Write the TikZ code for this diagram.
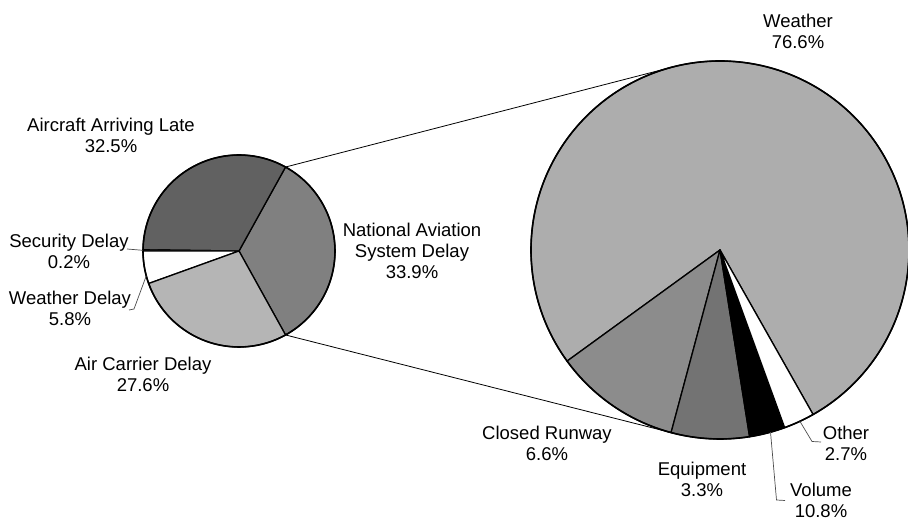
\documentclass[tikz,border=0pt]{standalone}
\usepackage{fontspec}
\setmainfont{Liberation Sans}
\usetikzlibrary{calc}
% centred multi-line label whose reference point is the first baseline
\newcommand\labelstack[1]{\begin{tabular}[t]{@{}c@{}}#1\end{tabular}}
\definecolor{lateGray}{gray}{0.38}
\definecolor{nasGray}{gray}{0.50}
\definecolor{carrierGray}{gray}{0.71}
\definecolor{wxGray}{gray}{0.68}
\definecolor{runwayGray}{gray}{0.55}
\definecolor{equipGray}{gray}{0.45}
\begin{document}
\begin{tikzpicture}[x=1pt,y=1pt,
  slice/.style={draw=black, line width=1.3pt, line join=round},
  rim/.style={draw=black, line width=1.6pt},
  zoomline/.style={draw=black, line width=0.8pt},
  leader/.style={draw=black!70, line width=0.7pt},
  lbl/.style={anchor=base, inner sep=0pt, font=\fontsize{18.5}{21}\selectfont}]
\useasboundingbox (0,0) rectangle (908,521);

\coordinate (S) at (239,270);
\coordinate (B) at (720,271);

% ---- small pie: all delay causes ----
\filldraw[slice, fill=nasGray] (S) -- ($(S)+(-61:96)$) arc[start angle=-61, end angle=61, radius=96] -- cycle;
\filldraw[slice, fill=lateGray] (S) -- ($(S)+(61:96)$) arc[start angle=61, end angle=179.3, radius=96] -- cycle;
\filldraw[slice, fill=white] (S) -- ($(S)+(179.3:96)$) arc[start angle=179.3, end angle=180, radius=96] -- cycle;
\filldraw[slice, fill=white] (S) -- ($(S)+(180:96)$) arc[start angle=180, end angle=199.8, radius=96] -- cycle;
\filldraw[slice, fill=carrierGray] (S) -- ($(S)+(199.8:96)$) arc[start angle=199.8, end angle=299, radius=96] -- cycle;
\draw[rim] (S) circle[radius=96];

% ---- large pie: breakdown of the NAS share ----
\filldraw[slice, fill=wxGray] (B) -- ($(B)+(299.5:189)$) arc[start angle=299.5, end angle=576, radius=189] -- cycle;
\filldraw[slice, fill=runwayGray] (B) -- ($(B)+(216:189)$) arc[start angle=216, end angle=255, radius=189] -- cycle;
\filldraw[slice, fill=equipGray] (B) -- ($(B)+(255:189)$) arc[start angle=255, end angle=279, radius=189] -- cycle;
\filldraw[slice, fill=black] (B) -- ($(B)+(279:189)$) arc[start angle=279, end angle=290, radius=189] -- cycle;
\filldraw[slice, fill=white] (B) -- ($(B)+(290:189)$) arc[start angle=290, end angle=299.5, radius=189] -- cycle;
\draw[rim] (B) circle[radius=189];

% ---- lines joining the NAS slice to the large pie ----
\coordinate (nasTop) at ($(S)+(61:96)$);
\coordinate (nasBot) at ($(S)+(-61:96)$);
\coordinate (tanTop) at ($(B)+(104.5:189)$);
\coordinate (tanBot) at ($(B)+(255.8:189)$);
\draw[zoomline] (nasTop) -- (tanTop);
\draw[zoomline] (nasBot) -- (tanBot);

% ---- labels ----
\node[lbl] (late) at (111,389) {\labelstack{Aircraft Arriving Late\\32.5\%}};
\node[lbl] (sec) at (69,273) {\labelstack{Security Delay\\0.2\%}};
\node[lbl] (wxd) at (70,216) {\labelstack{Weather Delay\\5.8\%}};
\node[lbl] (car) at (143,150) {\labelstack{Air Carrier Delay\\27.6\%}};
\node[lbl] (nas) at (412,284) {\labelstack{National Aviation\\System Delay\\33.9\%}};
\node[lbl] (wx) at (798,493) {\labelstack{Weather\\76.6\%}};
\node[lbl] (rwy) at (547,81) {\labelstack{Closed Runway\\6.6\%}};
\node[lbl] (eqp) at (702,45) {\labelstack{Equipment\\3.3\%}};
\node[lbl] (oth) at (846,81) {\labelstack{Other\\2.7\%}};
\node[lbl] (vol) at (821,24) {\labelstack{Volume\\10.8\%}};

% ---- leader lines ----
\coordinate (secA) at (127,272);
\coordinate (secTip) at ($(S)+(179.6:96)$);
\draw[leader] (secA) -- (secTip);

\coordinate (wxdA) at (129,211);
\coordinate (wxdB) at (134,212);
\coordinate (wxdTip) at ($(S)+(195:96)$);
\draw[leader] (wxdA) -- (wxdB) -- (wxdTip);

\coordinate (othTip) at ($(B)+(295:189)$);
\coordinate (othB) at (812,79.5);
\coordinate (othA) at (821,79);
\draw[leader] (othTip) -- (othB) -- (othA);

\coordinate (volTip) at ($(B)+(285.5:189)$);
\coordinate (volB) at (776.5,21);
\coordinate (volA) at (785,20.5);
\draw[leader] (volTip) -- (volB) -- (volA);
\end{tikzpicture}
\end{document}
